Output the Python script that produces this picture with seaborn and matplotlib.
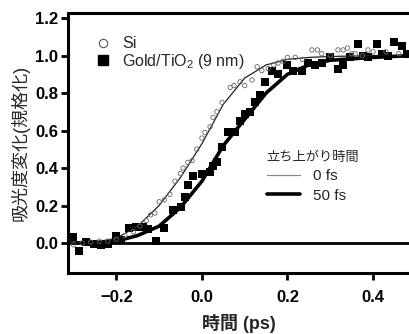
import numpy as np
import pandas as pd
import matplotlib
matplotlib.use("Agg")
import matplotlib.pyplot as plt
import seaborn as sns
from matplotlib.lines import Line2D

# measured points (time in ps, normalised absorbance change)
si_t = [-0.30, -0.28, -0.26, -0.24, -0.22, -0.20, -0.18, -0.16, -0.145, -0.13, -0.12, -0.11,
        -0.10, -0.088, -0.075, -0.063, -0.05, -0.044, -0.033, -0.023, -0.012, 0.0, 0.007,
        0.019, 0.026, 0.035, 0.047, 0.066, 0.075, 0.089, 0.10, 0.117, 0.129, 0.14, 0.155,
        0.168, 0.178, 0.19, 0.20, 0.218, 0.235, 0.257, 0.27, 0.28, 0.30, 0.318, 0.33, 0.34,
        0.35, 0.358, 0.375, 0.388, 0.40, 0.43, 0.46]
si_v = [-0.01, 0.0, 0.005, 0.01, 0.01, 0.02, 0.04, 0.06, 0.09, 0.12, 0.15, 0.16,
        0.22, 0.23, 0.26, 0.33, 0.37, 0.40, 0.43, 0.44, 0.50, 0.56, 0.59,
        0.62, 0.67, 0.70, 0.75, 0.83, 0.84, 0.86, 0.84, 0.87, 0.94, 0.92, 0.93,
        0.95, 0.96, 0.97, 0.99, 0.99, 0.98, 1.03, 1.03, 1.01, 1.00, 1.03, 1.03, 1.04,
        1.01, 1.01, 1.00, 1.03, 1.02, 1.02, 1.01]

gold_t = [-0.302, -0.288, -0.27, -0.253, -0.236, -0.22, -0.20, -0.19, -0.17, -0.155, -0.138,
          -0.125, -0.108, -0.089, -0.068, -0.05, -0.04, -0.033, -0.02, 0.0, 0.019, 0.026,
          0.035, 0.047, 0.061, 0.077, 0.089, 0.10, 0.112, 0.125, 0.136, 0.147, 0.164, 0.178,
          0.20, 0.213, 0.234, 0.248, 0.264, 0.28, 0.30, 0.318, 0.33, 0.346, 0.365, 0.377,
          0.388, 0.41, 0.42, 0.435, 0.45, 0.468, 0.48]
gold_v = [0.03, -0.04, 0.005, -0.005, -0.01, -0.005, 0.04, 0.015, 0.08, 0.085, 0.085,
          0.075, 0.01, 0.08, 0.175, 0.19, 0.245, 0.31, 0.36, 0.37, 0.38, 0.41,
          0.43, 0.51, 0.59, 0.59, 0.65, 0.69, 0.70, 0.75, 0.79, 0.86, 0.92, 0.90,
          0.95, 0.92, 0.92, 0.96, 0.95, 0.96, 0.99, 0.93, 0.95, 0.99, 1.06, 1.00,
          0.99, 1.06, 1.01, 1.00, 1.07, 1.05, 1.01]

# fitted rise curves
fit_t = [-0.32, -0.30, -0.25, -0.20, -0.15, -0.10, -0.05, 0.0, 0.05, 0.10, 0.15, 0.20,
         0.25, 0.30, 0.40, 0.49]
fit0_v = [0.0, 0.0, 0.005, 0.025, 0.09, 0.20, 0.35, 0.53, 0.74, 0.88, 0.95, 0.98,
          0.99, 0.995, 1.0, 1.0]
fit50_v = [0.0, 0.0, 0.002, 0.01, 0.04, 0.09, 0.19, 0.33, 0.52, 0.66, 0.80, 0.90,
           0.95, 0.975, 0.99, 1.0]

sns.set_style("ticks")
plt.rcParams['font.family'] = ['Liberation Sans', 'Noto Sans CJK JP']
plt.rcParams['mathtext.fontset'] = 'custom'
plt.rcParams['mathtext.rm'] = 'Liberation Sans'

df_si = pd.DataFrame({'t': si_t, 'v': si_v})
df_gold = pd.DataFrame({'t': gold_t, 'v': gold_v})
df_fit = pd.DataFrame({'t': fit_t, 'f0': fit0_v, 'f50': fit50_v})

fig = plt.figure(figsize=(4.09, 3.34), dpi=100)
ax = fig.add_axes([68 / 409, 1 - 273 / 334, 1 - 68 / 409, (273 - 13) / 334])

ax.axhline(0, color='black', lw=2, zorder=1)
sns.lineplot(data=df_fit, x='t', y='f0', color='#222222', lw=0.9, ax=ax, zorder=3)
sns.lineplot(data=df_fit, x='t', y='f50', color='black', lw=2.6, ax=ax, zorder=3)
sns.scatterplot(data=df_si, x='t', y='v', marker='o', s=10, facecolor='none',
                edgecolor='#666666', linewidth=0.6, ax=ax, zorder=4)
sns.scatterplot(data=df_gold, x='t', y='v', marker='s', s=32, color='black',
                edgecolor='black', linewidth=0, ax=ax, zorder=2)

ax.set_xlim(-0.313, 0.484)
ax.set_ylim(-0.16, 1.227)
ax.set_xticks([-0.2, 0.0, 0.2, 0.4])
ax.set_xticklabels(['\u22120.2', '0.0', '0.2', '0.4'])
ax.set_yticks([0.0, 0.2, 0.4, 0.6, 0.8, 1.0, 1.2])
ax.set_yticklabels(['0.0', '0.2', '0.4', '0.6', '0.8', '1.0', '1.2'])
for lab in ax.get_xticklabels() + ax.get_yticklabels():
    lab.set_fontweight('bold')
    lab.set_fontsize(12)
ax.tick_params(axis='x', direction='out', length=5, width=2, colors='black', pad=7)
ax.tick_params(axis='y', direction='out', length=5, width=2, colors='black', pad=2)

for side in ['left', 'top', 'bottom']:
    ax.spines[side].set_linewidth(2.2)
    ax.spines[side].set_color('black')
ax.spines['right'].set_visible(False)

ax.set_xlabel('時間 (ps)', fontsize=13, fontweight='bold', labelpad=7)
ax.set_ylabel('吸光度変化(規格化)', fontsize=13, labelpad=4)

# sample legend
h_si = Line2D([], [], marker='o', ls='none', mfc='none', mec='#555555', ms=6, mew=0.8)
h_gold = Line2D([], [], marker='s', ls='none', color='black', ms=6.5)
leg1 = ax.legend([h_si, h_gold], ['Si', 'Gold/TiO$_2$ (9 nm)'], loc='upper left',
                 bbox_to_anchor=(0.065, 0.935), frameon=False, fontsize=11.5,
                 handlelength=0.8, handletextpad=0.8, labelspacing=0.02, borderaxespad=0)
ax.add_artist(leg1)

# rise time legend
h0 = Line2D([], [], color='#888888', lw=0.9)
h50 = Line2D([], [], color='black', lw=2.6)
leg2 = ax.legend([h0, h50], ['0 fs', '50 fs'], title='立ち上がり時間', loc='upper left',
                 bbox_to_anchor=(0.565, 0.49), frameon=False, fontsize=11,
                 title_fontsize=9.5, handlelength=2.2, handletextpad=0.8, labelspacing=0.35,
                 borderaxespad=0)
leg2._legend_box.align = 'left'

fig.savefig('out.png', dpi=100)
